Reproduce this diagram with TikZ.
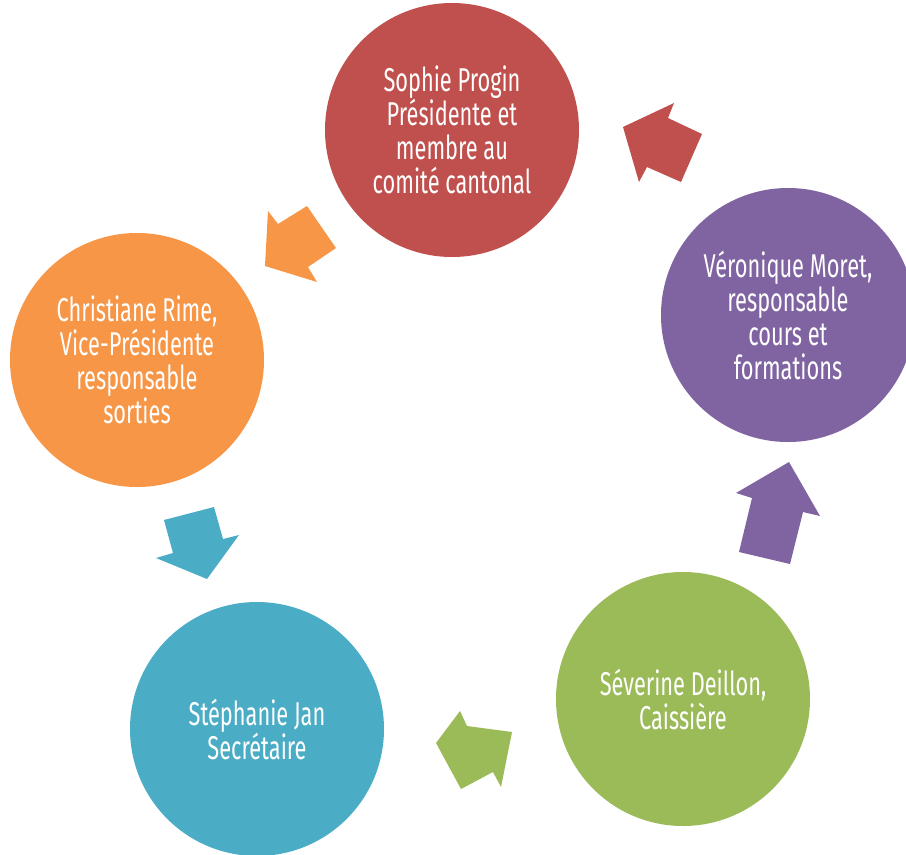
\documentclass[tikz,border=0pt]{standalone}
\usepackage{fontspec}
\setmainfont[FakeStretch=0.66]{Fira Sans}
\definecolor{cred}{HTML}{C0504D}
\definecolor{corange}{HTML}{F79646}
\definecolor{cblue}{HTML}{4BACC6}
\definecolor{cgreen}{HTML}{9BBB59}
\definecolor{cpurple}{HTML}{8064A2}
\tikzset{
  member/.style={circle, minimum size=254pt, inner sep=0pt, text=white, align=center,
    font=\fontsize{33}{34}\selectfont},
  blockarrow/.style={draw=none}
}
\begin{document}
\begin{tikzpicture}[x=1pt,y=-1pt]
\useasboundingbox (0,0) rectangle (906,855);
\begin{scope}
\clip (0,0) rectangle (906,855);
\node[member, fill=cred] (pres) at (452,130) {Sophie Progin\\Présidente et\\membre au\\comité cantonal};
\node[member, fill=corange] (vice) at (137,360) {Christiane Rime,\\Vice-Présidente\\responsable\\sorties};
\node[member, fill=cblue] (secr) at (257,729) {Stéphanie Jan\\Secrétaire};
\node[member, fill=cgreen] (cais) at (683,699) {Séverine Deillon,\\Caissière};
\node[member, fill=cpurple] (form) at (788,315) {Véronique Moret,\\responsable\\cours et\\formations};
\end{scope}
% block arrows
\fill[cred] (623,127) -- (674,103) -- (668,118) -- (702,134) -- (681,182) -- (647,167) -- (639,182) -- cycle;
\fill[corange] (265,266) -- (268,211) -- (278,224) -- (307,206) -- (336,248) -- (308,267) -- (317,282) -- cycle;
\fill[cblue] (164,520) -- (214,507) -- (223,539) -- (239,535) -- (207,579) -- (156,558) -- (173,553) -- cycle;
\fill[cgreen] (460,711) -- (467,726) -- (512,732) -- (501,787) -- (493,772) -- (461,789) -- (436,743) -- cycle;
\fill[cpurple] (789,462) -- (820,516) -- (803,512) -- (790,564) -- (739,552) -- (752,498) -- (736,493) -- cycle;
\end{tikzpicture}
\end{document}
